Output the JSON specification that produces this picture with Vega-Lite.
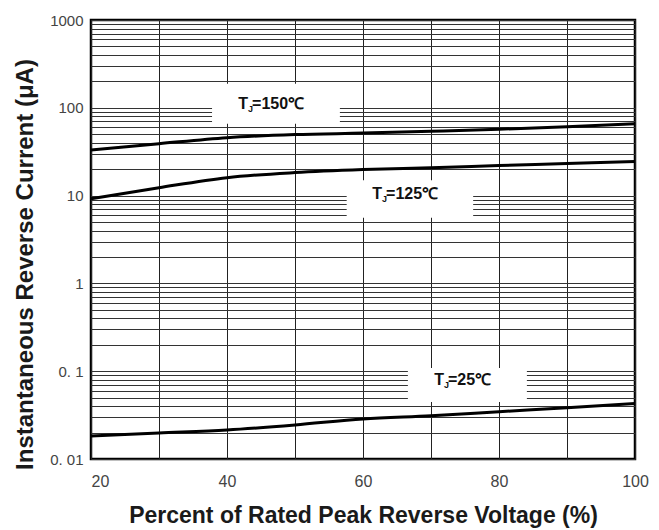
{
  "$schema": "https://vega.github.io/schema/vega-lite/v6.json",
  "width": 544,
  "height": 439,
  "autosize": "none",
  "padding": {"left": 91, "top": 20, "right": 24, "bottom": 71},
  "background": "white",
  "config": {
    "view": {"stroke": "#000", "strokeWidth": 2.5},
    "font": "Liberation Sans"
  },
  "datasets": {
    "boxes": [
      {"x": 37.8, "x2": 56.6, "y": 66, "y2": 188},
      {"x": 57.6, "x2": 76.2, "y": 5.6, "y2": 15},
      {"x": 66.6, "x2": 84.1, "y": 0.0445, "y2": 0.109}
    ],
    "curves": [
      {"series": "150", "v": 20, "i": 33},
      {"series": "150", "v": 30, "i": 39},
      {"series": "150", "v": 40, "i": 45.7},
      {"series": "150", "v": 50, "i": 49.5},
      {"series": "150", "v": 60, "i": 51.5},
      {"series": "150", "v": 70, "i": 54},
      {"series": "150", "v": 80, "i": 57},
      {"series": "150", "v": 90, "i": 61},
      {"series": "150", "v": 100, "i": 66},
      {"series": "125", "v": 20, "i": 9.2},
      {"series": "125", "v": 30, "i": 12.3},
      {"series": "125", "v": 40, "i": 16},
      {"series": "125", "v": 50, "i": 18.3},
      {"series": "125", "v": 60, "i": 19.8},
      {"series": "125", "v": 70, "i": 20.8},
      {"series": "125", "v": 80, "i": 22},
      {"series": "125", "v": 90, "i": 23.2},
      {"series": "125", "v": 100, "i": 24.5},
      {"series": "25", "v": 20, "i": 0.0183},
      {"series": "25", "v": 30, "i": 0.0198},
      {"series": "25", "v": 40, "i": 0.0214},
      {"series": "25", "v": 50, "i": 0.0244},
      {"series": "25", "v": 60, "i": 0.0286},
      {"series": "25", "v": 70, "i": 0.0311},
      {"series": "25", "v": 80, "i": 0.0346},
      {"series": "25", "v": 90, "i": 0.0384},
      {"series": "25", "v": 100, "i": 0.043}
    ],
    "labels": [
      {"x": 43.1, "y": 110, "rest": "=150℃"},
      {"x": 62.8, "y": 10.3, "rest": "=125℃"},
      {"x": 71.9, "y": 0.0784, "rest": "=25℃"}
    ]
  },
  "layer": [
    {
      "data": {"name": "boxes"},
      "mark": {"type": "rect", "fill": "white", "stroke": null},
      "encoding": {
        "x": {
          "field": "x", "type": "quantitative",
          "scale": {"domain": [20, 100], "nice": false, "zero": false},
          "axis": {
            "values": [20, 30, 40, 50, 60, 70, 80, 90, 100],
            "grid": true, "gridColor": "#222", "gridWidth": 1, "gridOpacity": 1,
            "ticks": false, "domain": false,
            "labelExpr": "datum.value % 20 == 0 ? datum.label : ''",
            "labelAlign": {"expr": "datum.value == 20 ? 'left' : 'center'"},
            "labelFontSize": 16, "labelColor": "#444", "labelPadding": 14,
            "title": "Percent of Rated Peak Reverse Voltage (%)",
            "titleFontSize": 23, "titleFontWeight": "bold", "titleColor": "#1a1a1a",
            "titleY": 56, "titleBaseline": "middle"
          }
        },
        "x2": {"field": "x2"},
        "y": {
          "field": "y", "type": "quantitative",
          "scale": {"type": "log", "domain": [0.01, 1000], "nice": false},
          "axis": {
            "values": [0.01, 0.02, 0.03, 0.04, 0.05, 0.06, 0.07, 0.08, 0.09,
                       0.1, 0.2, 0.3, 0.4, 0.5, 0.6, 0.7, 0.8, 0.9,
                       1, 2, 3, 4, 5, 6, 7, 8, 9,
                       10, 20, 30, 40, 50, 60, 70, 80, 90,
                       100, 200, 300, 400, 500, 600, 700, 800, 900, 1000],
            "grid": true, "gridColor": "#333", "gridWidth": 1, "gridOpacity": 1,
            "ticks": false, "domain": false,
            "labelExpr": "datum.value == 1000 ? '1000' : datum.value == 100 ? '100' : datum.value == 10 ? '10' : datum.value == 1 ? '1' : datum.value == 0.1 ? '0. 1' : datum.value == 0.01 ? '0. 01' : ''",
            "labelFontSize": 15, "labelColor": "#444", "labelPadding": 8,
            "title": "Instantaneous Reverse Current (μA)",
            "titleFontSize": 24, "titleFontWeight": "bold", "titleColor": "#1a1a1a",
            "titleX": -66, "titleY": 244, "titleAlign": "center", "titleBaseline": "middle", "titleAngle": 270
          }
        },
        "y2": {"field": "y2"}
      }
    },
    {
      "data": {"name": "curves"},
      "mark": {"type": "line", "color": "#000", "strokeWidth": 3, "interpolate": "monotone"},
      "encoding": {
        "x": {"field": "v", "type": "quantitative"},
        "y": {"field": "i", "type": "quantitative"},
        "detail": {"field": "series"}
      }
    },
    {
      "data": {"name": "labels"},
      "mark": {"type": "text", "text": "T", "align": "right", "baseline": "middle", "fontSize": 16, "fontWeight": "bold", "color": "#111"},
      "encoding": {
        "x": {"field": "x", "type": "quantitative"},
        "y": {"field": "y", "type": "quantitative"}
      }
    },
    {
      "data": {"name": "labels"},
      "mark": {"type": "text", "text": "J", "align": "left", "baseline": "middle", "dy": 5, "fontSize": 9, "fontWeight": "bold", "color": "#111"},
      "encoding": {
        "x": {"field": "x", "type": "quantitative"},
        "y": {"field": "y", "type": "quantitative"}
      }
    },
    {
      "data": {"name": "labels"},
      "mark": {"type": "text", "align": "left", "baseline": "middle", "dx": 4, "fontSize": 16, "fontWeight": "bold", "color": "#111"},
      "encoding": {
        "x": {"field": "x", "type": "quantitative"},
        "y": {"field": "y", "type": "quantitative"},
        "text": {"field": "rest"}
      }
    }
  ]
}
